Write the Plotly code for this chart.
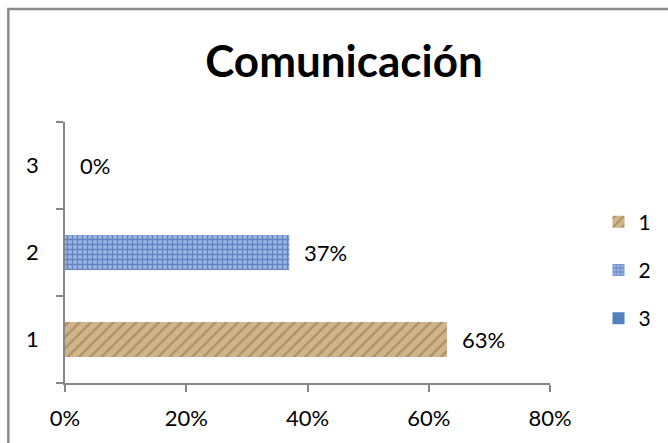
import plotly.graph_objects as go

# Share of responses per level for "Comunicación"
categories = ["1", "2", "3"]
positions = [1, 2, 3]
values = [0.63, 0.37, 0.0]
x_ticks = [0, 0.2, 0.4, 0.6, 0.8]
x_tick_labels = ["0%", "20%", "40%", "60%", "80%"]

FONT = "Lato"
AXIS = "#868686"

# per-series fills: a tan "paper" texture, a blue woven texture and a flat blue
fills = [
    dict(color="#c9aa7d", pattern=dict(shape="/", fgcolor="#8f6d45", bgcolor="#d0b48a",
                                       size=8, solidity=0.3)),
    dict(color="#86a5db", pattern=dict(shape="+", fgcolor="#2e4f93", bgcolor="#9ab6e6",
                                       size=5, solidity=0.45)),
    dict(color="#4f81bd"),
]

fig = go.Figure()
for i, (cat, pos, val) in enumerate(zip(categories, positions, values)):
    fig.add_trace(go.Bar(
        x=[val], y=[pos], orientation="h", name=cat,
        marker=dict(line=dict(width=0), **fills[i]),
        width=0.4, legendgroup=cat, showlegend=True,
    ))
    # value label to the right of each bar
    fig.add_annotation(
        x=val, y=pos, xref="x", yref="y", text=f"{val:.0%}",
        xanchor="left", yanchor="middle", xshift=13, showarrow=False,
        font=dict(family=FONT, size=22, color="#000000"),
    )

fig.update_layout(
    width=668, height=443,
    paper_bgcolor="white", plot_bgcolor="white",
    margin=dict(l=65, r=115, t=122, b=60),
    barmode="overlay",
    title=dict(text="<b>Comunicación</b>", x=0.515, xanchor="center",
               y=1 - 62 / 443, yanchor="middle",
               font=dict(family=FONT, size=44, color="#000000")),
    font=dict(family=FONT, size=22, color="#000000"),
    legend=dict(x=1.1, xanchor="left", y=(383 - 270) / 261, yanchor="middle",
                traceorder="grouped", tracegroupgap=18,
                font=dict(family=FONT, size=21, color="#000000"),
                bgcolor="rgba(0,0,0,0)"),
    showlegend=True,
)

fig.update_xaxes(
    range=[0, 0.8], tickvals=x_ticks, ticktext=x_tick_labels,
    showgrid=False, zeroline=False, showline=True, linecolor=AXIS, linewidth=1.5,
    ticks="outside", ticklen=7, tickcolor=AXIS, tickwidth=1.5,
    tickfont=dict(family=FONT, size=22), ticklabelstandoff=8,
)
# category labels at the centres, tick marks on the boundaries between them
fig.update_yaxes(
    range=[0.5, 3.5], tickvals=positions, ticktext=categories,
    showgrid=False, zeroline=False, showline=True, linecolor=AXIS, linewidth=1.5,
    ticks="outside", ticklen=0, tickwidth=0,
    minor=dict(tickvals=[0.5, 1.5, 2.5, 3.5], ticks="outside", ticklen=7,
               tickcolor=AXIS, tickwidth=1.5, showgrid=False),
    tickfont=dict(family=FONT, size=22), ticklabelstandoff=20,
)

# chart frame, open on the right and bottom
fig.add_shape(type="rect", xref="paper", yref="paper",
              x0=-57 / 488, x1=1.4, y0=-0.5, y1=(443 - 60 - 9) / 261,
              line=dict(color="#8c8c8c", width=2.5), fillcolor="rgba(0,0,0,0)",
              layer="below")

fig.write_html("out.html")
